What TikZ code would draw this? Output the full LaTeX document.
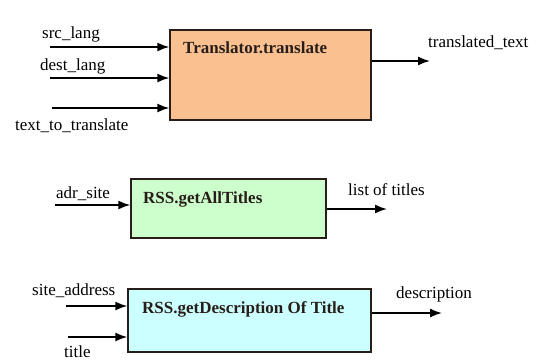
\documentclass[tikz,border=0pt]{standalone}
\usepackage{fontspec}
\setmainfont{Liberation Serif}
\usetikzlibrary{arrows.meta}
\definecolor{boxorange}{RGB}{250,192,144}
\definecolor{boxgreen}{RGB}{204,255,204}
\definecolor{boxcyan}{RGB}{204,255,255}
\definecolor{edge}{RGB}{40,30,25}
\tikzset{
  fbox/.style={draw=edge, line width=1.4pt, inner sep=0pt},
  ttl/.style={font=\rmfamily\fontsize{17}{20}\selectfont\bfseries, text=edge, inner sep=0pt, anchor=base west},
  lbl/.style={font=\rmfamily\fontsize{17}{20}\selectfont, inner sep=0pt, anchor=base west},
  arr/.style={line width=1.6pt, -{Latex[length=12pt,width=9pt]}},
}
\begin{document}
\begin{tikzpicture}[x=1pt,y=-1pt]
\useasboundingbox (0,0) rectangle (538,360);
% boxes
\node[fbox, fill=boxorange, minimum width=201pt, minimum height=90pt] (b1) at (270.5,75) {};
\node[fbox, fill=boxgreen, minimum width=195pt, minimum height=59pt] (b2) at (228.5,208.5) {};
\node[fbox, fill=boxcyan, minimum width=243pt, minimum height=63pt] (b3) at (249.5,320.5) {};
% titles
\node[ttl] (t1) at (183,53) {Translator.translate};
\node[ttl] (t2) at (143,203) {RSS.getAllTitles};
\node[ttl] (t3) at (142,313) {RSS.getDescription Of Title};
% labels
\node[lbl] (l1) at (42,38) {src\_lang};
\node[lbl] (l2) at (40,70) {dest\_lang};
\node[lbl] (l3) at (15,130) {text\_to\_translate};
\node[lbl] (l4) at (428,47) {translated\_text};
\node[lbl] (l5) at (56,198) {adr\_site};
\node[lbl] (l6) at (348,195) {list of titles};
\node[lbl] (l7) at (32,295) {site\_address};
\node[lbl] (l8) at (64,357) {title};
\node[lbl] (l9) at (396,298) {description};
% arrow endpoints
\coordinate (s1) at (50,47);
\coordinate (s2) at (50,78);
\coordinate (s3) at (52,108);
\coordinate (e1) at (430,61);
\coordinate (s4) at (55,205);
\coordinate (e2) at (387,209);
\coordinate (s5) at (66,306);
\coordinate (s6) at (68,337);
\coordinate (e3) at (442,313);
% arrows
\draw[arr] (s1) -- (s1 -| b1.west);
\draw[arr] (s2) -- (s2 -| b1.west);
\draw[arr] (s3) -- (s3 -| b1.west);
\draw[arr] (e1 -| b1.east) -- (e1);
\draw[arr] (s4) -- (s4 -| b2.west);
\draw[arr] (e2 -| b2.east) -- (e2);
\draw[arr] (s5) -- (s5 -| b3.west);
\draw[arr] (s6) -- (s6 -| b3.west);
\draw[arr] (e3 -| b3.east) -- (e3);
\end{tikzpicture}
\end{document}
